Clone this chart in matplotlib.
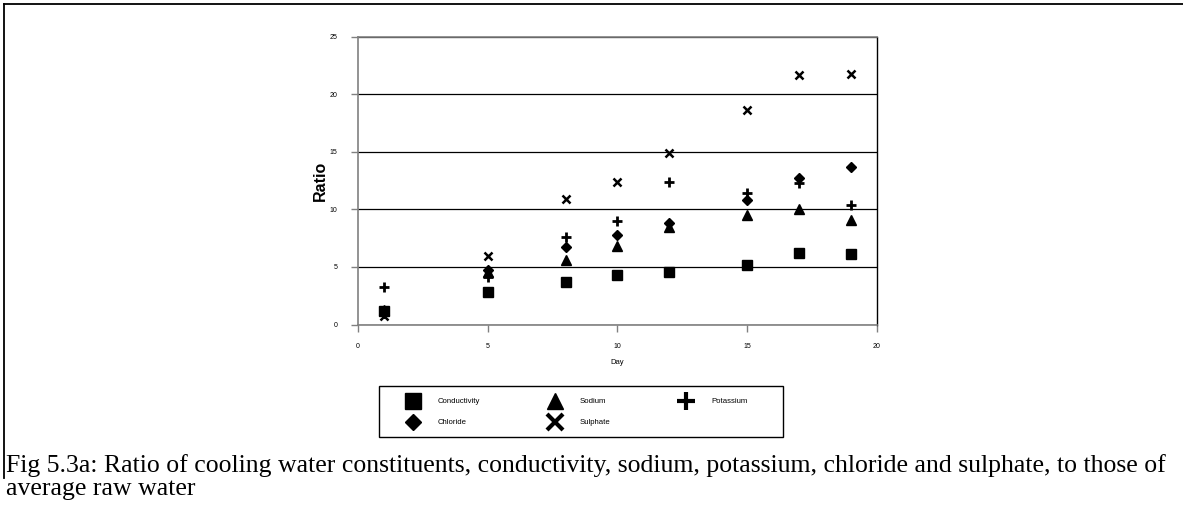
import matplotlib.pyplot as plt
from matplotlib.lines import Line2D
from matplotlib.patches import Rectangle

# Data
days = [1, 5, 8, 10, 12, 15, 17, 19]
conductivity = [1.15, 2.8, 3.7, 4.3, 4.6, 5.15, 6.2, 6.1]
sodium = [1.3, 4.55, 5.6, 6.8, 8.45, 9.5, 10.0, 9.1]
potassium = [3.3, 4.1, 7.6, 9.0, 12.4, 11.4, 12.3, 10.35]
chloride = [1.0, 4.75, 6.7, 7.75, 8.8, 10.8, 12.7, 13.7]
sulphate = [0.7, 5.95, 10.9, 12.4, 14.9, 18.65, 21.7, 21.8]

x_ticks = [0, 5, 10, 15, 20]
y_ticks = [0, 5, 10, 15, 20, 25]

caption = ("Fig 5.3a: Ratio of cooling water constituents, conductivity, sodium, "
           "potassium, chloride and sulphate, to those of\naverage raw water")

plt.rcParams['font.family'] = ['Liberation Sans', 'DejaVu Sans']

W, H = 1183, 523
fig = plt.figure(figsize=(W / 100, H / 100), dpi=100)
ax = fig.add_axes([0.3026, 0.3795, 0.4387, 0.5503])

ax.plot(days, conductivity, linestyle='none', marker='s', color='black', markersize=6.5)
ax.plot(days, sodium, linestyle='none', marker='^', color='black', markersize=6.5)
ax.plot(days, chloride, linestyle='none', marker='D', color='black', markersize=4.8)
ax.plot(days, potassium, linestyle='none', marker='+', color='black', markersize=7, markeredgewidth=2)
ax.plot(days, sulphate, linestyle='none', marker='x', color='black', markersize=5.5, markeredgewidth=1.8)

ax.set_xlim(0, 20)
ax.set_ylim(0, 25)
ax.set_xticks(x_ticks)
ax.set_yticks(y_ticks)
ax.tick_params(axis='both', labelsize=5, direction='out', length=5, width=1, color='#808080')
ax.tick_params(axis='y', pad=10)
ax.tick_params(axis='x', pad=8)
ax.grid(axis='y', color='black', linewidth=0.9)
ax.set_axisbelow(True)

for side in ['left', 'bottom', 'top']:
    ax.spines[side].set_color('#808080')
    ax.spines[side].set_linewidth(1.2)
ax.spines['right'].set_color('black')
ax.spines['right'].set_linewidth(1)

ax.set_ylabel("Ratio", fontsize=11.5, fontweight='bold', labelpad=1)
ax.set_xlabel("Day", fontsize=5.5, labelpad=7)

# legend, column-major order gives Conductivity/Chloride, Sodium/Sulphate, Potassium
handles = [
    Line2D([], [], linestyle='none', marker='s', color='black', markersize=11.5),
    Line2D([], [], linestyle='none', marker='D', color='black', markersize=8),
    Line2D([], [], linestyle='none', marker='^', color='black', markersize=11.5),
    Line2D([], [], linestyle='none', marker='x', color='black', markersize=11, markeredgewidth=3),
    Line2D([], [], linestyle='none', marker='+', color='black', markersize=12.5, markeredgewidth=3),
]
labels = ["Conductivity", "Chloride", "Sodium", "Sulphate", "Potassium"]
leg = fig.legend(handles, labels, ncol=3, loc='upper left',
                 bbox_to_anchor=(405 / W, 1 - 398 / H),
                 fontsize=5.55, frameon=False, borderpad=0, borderaxespad=0,
                 labelspacing=1.75, handlelength=2.0, handletextpad=2.2,
                 columnspacing=8.8)

# legend box
fig.add_artist(Rectangle((379 / W, 1 - 437 / H), 404 / W, 51 / H, transform=fig.transFigure,
                         fill=False, edgecolor='black', linewidth=1))

# outer frame lines
fig.add_artist(Line2D([4 / W, 1], [1 - 4 / H, 1 - 4 / H], color='black', linewidth=1.3))
fig.add_artist(Line2D([4 / W, 4 / W], [1 - 4 / H, 1 - 478 / H], color='black', linewidth=1.3))

fig.text(6 / W, 1 - 495 / H, caption, family='Liberation Serif', fontsize=18.5,
         va='baseline', ha='left', linespacing=1.05)

plt.savefig("out.png", dpi=100)
